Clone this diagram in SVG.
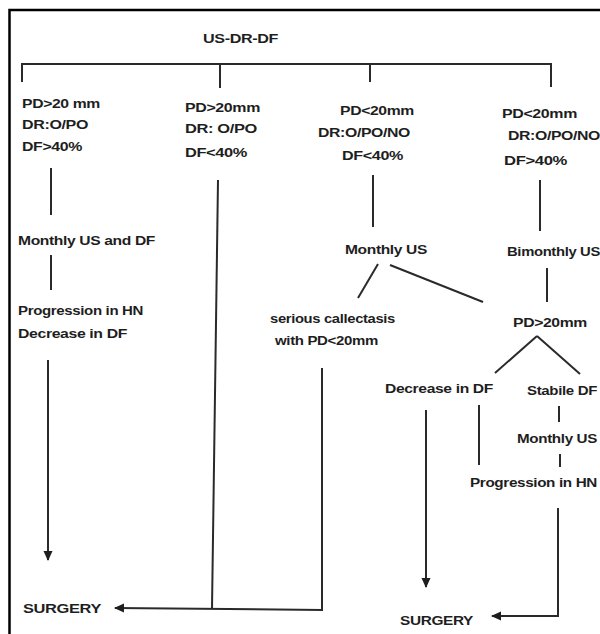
<svg xmlns="http://www.w3.org/2000/svg" width="600" height="634" viewBox="0 0 600 634">
<style>
text{font-family:"Liberation Sans",Arial,sans-serif;font-size:13px;font-weight:bold;fill:#1e1e1e;letter-spacing:-0.3px}
.ln{fill:none;stroke:#2a2a2a;stroke-width:2}
.fr{fill:none;stroke:#000;stroke-width:2.5}
</style>
<defs>
<marker id="ah" markerUnits="userSpaceOnUse" markerWidth="10" markerHeight="10" viewBox="0 0 10 10" refX="9" refY="5" orient="auto">
<path d="M0,0.5 L10,5 L0,9.5 Z" fill="#1e1e1e"/>
</marker>
</defs>
<rect width="600" height="634" fill="#fff"/>
<path class="fr" d="M9.5,634 V10 H600"/>
<g id="connectors">
<path class="ln" d="M22,82 V64 H551 V87"/>
<path class="ln" d="M220,64 V88"/>
<path class="ln" d="M370,64 V82"/>
<path class="ln" d="M51,168 V215"/>
<path class="ln" d="M51,255 V290"/>
<path class="ln" d="M48,360 V560" marker-end="url(#ah)"/>
<path class="ln" d="M218,180 L212,609"/>
<path class="ln" d="M322,368 V610 L115,608" marker-end="url(#ah)"/>
<path class="ln" d="M373,175 V227"/>
<path class="ln" d="M378,264 L358,298"/>
<path class="ln" d="M390,265 L483,302"/>
<path class="ln" d="M540,180 V231"/>
<path class="ln" d="M547,268 V302"/>
<path class="ln" d="M537,336 L495,373"/>
<path class="ln" d="M537,336 L580,374"/>
<path class="ln" d="M426,410 V587" marker-end="url(#ah)"/>
<path class="ln" d="M479,405 V465"/>
<path class="ln" d="M559,406 V422"/>
<path class="ln" d="M560,454 V467"/>
<path class="ln" d="M558,508 V616 H492" marker-end="url(#ah)"/>
</g>
<g id="root"><text x="203" y="43" textLength="75" lengthAdjust="spacingAndGlyphs">US-DR-DF</text></g>
<g id="col1">
<text x="22" y="108" textLength="78" lengthAdjust="spacingAndGlyphs">PD&gt;20 mm</text>
<text x="22" y="129" textLength="66" lengthAdjust="spacingAndGlyphs">DR:O/PO</text>
<text x="22" y="151" textLength="60" lengthAdjust="spacingAndGlyphs">DF&gt;40%</text>
</g>
<g id="col2">
<text x="185" y="112" textLength="75" lengthAdjust="spacingAndGlyphs">PD&gt;20mm</text>
<text x="185" y="133" textLength="72" lengthAdjust="spacingAndGlyphs">DR: O/PO</text>
<text x="185" y="157" textLength="62" lengthAdjust="spacingAndGlyphs">DF&lt;40%</text>
</g>
<g id="col3">
<text x="340" y="115" textLength="74" lengthAdjust="spacingAndGlyphs">PD&lt;20mm</text>
<text x="318" y="137" textLength="92" lengthAdjust="spacingAndGlyphs">DR:O/PO/NO</text>
<text x="342" y="160" textLength="61" lengthAdjust="spacingAndGlyphs">DF&lt;40%</text>
</g>
<g id="col4">
<text x="502" y="118" textLength="75" lengthAdjust="spacingAndGlyphs">PD&lt;20mm</text>
<text x="508" y="140" textLength="92" lengthAdjust="spacingAndGlyphs">DR:O/PO/NO</text>
<text x="504" y="165" textLength="63" lengthAdjust="spacingAndGlyphs">DF&gt;40%</text>
</g>
<g id="monthly-us-df"><text x="18" y="245" textLength="137" lengthAdjust="spacingAndGlyphs">Monthly US and DF</text></g>
<g id="progression-left">
<text x="18" y="315" textLength="125" lengthAdjust="spacingAndGlyphs">Progression in HN</text>
<text x="18" y="338" textLength="109" lengthAdjust="spacingAndGlyphs">Decrease in DF</text>
</g>
<g id="monthly-us-mid"><text x="345" y="254" textLength="82" lengthAdjust="spacingAndGlyphs">Monthly US</text></g>
<g id="bimonthly-us"><text x="507" y="256" textLength="93" lengthAdjust="spacingAndGlyphs">Bimonthly US</text></g>
<g id="callectasis">
<text x="270" y="323" textLength="125" lengthAdjust="spacingAndGlyphs">serious callectasis</text>
<text x="275" y="345" textLength="103" lengthAdjust="spacingAndGlyphs">with PD&lt;20mm</text>
</g>
<g id="pd-gt-20"><text x="513" y="327" textLength="74" lengthAdjust="spacingAndGlyphs">PD&gt;20mm</text></g>
<g id="decrease-right"><text x="385" y="393" textLength="108" lengthAdjust="spacingAndGlyphs">Decrease in DF</text></g>
<g id="stabile-df"><text x="527" y="395" textLength="70" lengthAdjust="spacingAndGlyphs">Stabile DF</text></g>
<g id="monthly-us-right"><text x="517" y="443" textLength="80" lengthAdjust="spacingAndGlyphs">Monthly US</text></g>
<g id="progression-right"><text x="470" y="487" textLength="127" lengthAdjust="spacingAndGlyphs">Progression in HN</text></g>
<g id="surgery-left"><text x="23" y="613" textLength="78" lengthAdjust="spacingAndGlyphs">SURGERY</text></g>
<g id="surgery-right"><text x="400" y="625" textLength="73" lengthAdjust="spacingAndGlyphs">SURGERY</text></g>
</svg>
